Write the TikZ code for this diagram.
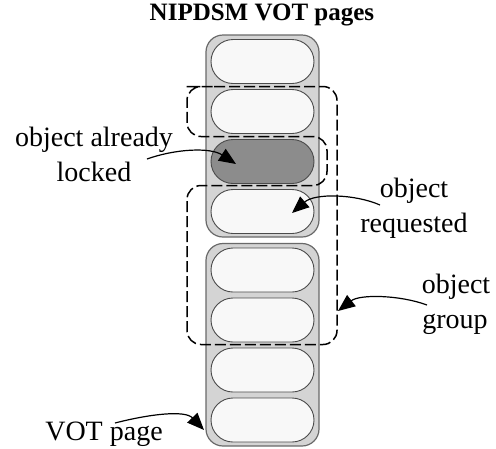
\documentclass[tikz,border=0pt]{standalone}
\usepackage{fontspec}
\setmainfont{Liberation Serif}
\usetikzlibrary{arrows.meta,shapes.misc}
\definecolor{pagefill}{RGB}{212,212,212}
\definecolor{pageline}{RGB}{105,105,105}
\definecolor{slotfill}{RGB}{248,248,248}
\definecolor{slotline}{RGB}{75,75,75}
\definecolor{lockfill}{RGB}{140,140,140}
\tikzset{
  pagebox/.style={draw=pageline,fill=pagefill,line width=1.2pt,rounded corners=17pt},
  slotbox/.style={rounded rectangle,draw=slotline,fill=slotfill,line width=0.9pt,
    minimum width=103pt,minimum height=44pt,inner sep=0pt},
  lockbox/.style={slotbox,fill=lockfill},
  grouppath/.style={draw=black,line width=1.5pt,dash pattern=on 11pt off 4pt,rounded corners=14pt},
  lbl/.style={font=\fontsize{28}{35}\selectfont,anchor=base,inner sep=0pt},
  pointer/.style={draw=black,line width=1.2pt,-{Triangle[length=17pt,width=14pt]}}
}
\begin{document}
\begin{tikzpicture}[x=1pt,y=-1pt]
\useasboundingbox (0,0) rectangle (496,448);
% title
\node[font=\fontsize{25}{28}\selectfont\bfseries,anchor=base,inner sep=0pt] (title) at (262,20) {NIPDSM VOT pages};
% pages
\draw[pagebox] (206,35) rectangle (319,237);
\draw[pagebox] (206,243.5) rectangle (319,446);
% slots page 1
\node[slotbox] (s1) at (262.5,61.5) {};
\node[slotbox] (s2) at (262.5,111.5) {};
\node[lockbox] (s3) at (262.5,161.5) {};
\node[slotbox] (s4) at (262.5,211.5) {};
% slots page 2
\node[slotbox] (s5) at (262.5,270) {};
\node[slotbox] (s6) at (262.5,320) {};
\node[slotbox] (s7) at (262.5,370) {};
\node[slotbox] (s8) at (262.5,420) {};
% object group outline
\draw[grouppath] (200,86.5) -- (337,86.5) -- (337,344.5) -- (187,344.5) -- (187,185.5)
  -- (327,185.5) -- (327,136.5) -- (187,136.5) -- (187,86.5) -- cycle;
% labels
\node[lbl] (la1) at (94,146) {object already};
\node[lbl] (la2) at (94,181) {locked};
\node[lbl] (lr1) at (414,197) {object};
\node[lbl] (lr2) at (414,232) {requested};
\node[lbl] (lg1) at (456,293) {object};
\node[lbl] (lg2) at (455,328) {group};
\node[lbl] (lv) at (104,440) {VOT page};
% pointer coordinates
\coordinate (a1s) at (147,159);
\coordinate (a1e) at (236,164);
\coordinate (a2s) at (380,205);
\coordinate (a2e) at (292,213);
\coordinate (a3s) at (427,305);
\coordinate (a3e) at (338,311);
\coordinate (a4s) at (115,423);
\coordinate (a4e) at (204,430);
% pointers
\draw[pointer] (a1s) .. controls (175,149) and (210,147) .. (a1e);
\draw[pointer] (a2s) .. controls (355,194) and (315,193) .. (a2e);
\draw[pointer] (a3s) .. controls (400,295) and (360,294) .. (a3e);
\draw[pointer] (a4s) .. controls (150,414) and (185,410) .. (a4e);
\end{tikzpicture}
\end{document}
